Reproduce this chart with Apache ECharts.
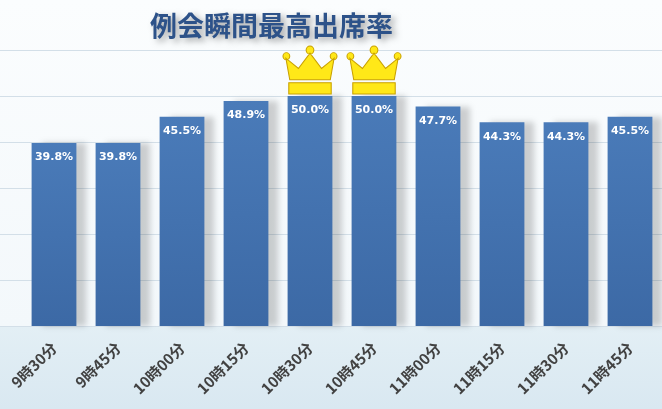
<!DOCTYPE html>
<html lang="ja">
<head>
	<meta charset="UTF-8">
	<title>例会瞬間最高出席率</title>
	<style>
		html,body{height: 100%;overflow: hidden;margin: 0;padding: 0;}
		body{background: linear-gradient(to bottom, #fbfdfe 0%, #f3f8fb 79.6%, #e3eff5 79.7%, #d9e8f1 100%);}
		#main{position: absolute;top: 0;left: 0;width: 662px;height: 409px;}
	</style>
</head>
<body>
	<div id="main"></div>
	<script src="https://cdn.jsdelivr.net/npm/echarts@6/dist/echarts.min.js"></script>
	<script>
		var categories = ['9時30分', '9時45分', '10時00分', '10時15分', '10時30分', '10時45分', '11時00分', '11時15分', '11時30分', '11時45分'];
		var rates = [39.8, 39.8, 45.5, 48.9, 50.0, 50.0, 47.7, 44.3, 44.3, 45.5];
		var yTicks = [0, 10, 20, 30, 40, 50, 60];

		// 王冠（最高値のバーに乗せる）
		var crown = 'path://M6,34 L2,13 L15,23 L27,8 L39,23 L52,13 L48,34 Z' +
			'M-1,11 a3.5,3.5 0 1,0 7,0 a3.5,3.5 0 1,0 -7,0 Z' +
			'M23,5 a4,4 0 1,0 8,0 a4,4 0 1,0 -8,0 Z' +
			'M48,11 a3.5,3.5 0 1,0 7,0 a3.5,3.5 0 1,0 -7,0 Z' +
			'M5,37 L49,37 L49,48 L5,48 Z';

		var maxRate = Math.max.apply(null, rates);
		var crownPoints = [];
		for (var i = 0; i < rates.length; i++) {
			if (rates[i] === maxRate) {
				crownPoints.push({coord: [categories[i], rates[i]]});
			}
		}

		var yAxisBase = {
			type: 'value',
			min: yTicks[0],
			max: yTicks[yTicks.length - 1],
			interval: yTicks[1] - yTicks[0],
			axisLabel: {show: false},
			axisLine: {show: false},
			axisTick: {show: false}
		};

		var chart = echarts.init(document.getElementById('main'));
		var option = {
			backgroundColor: 'transparent',
			title: {
				text: '例会瞬間最高出席率',
				left: 145,
				top: 7,
				textStyle: {
					fontFamily: 'Noto Sans CJK JP',
					fontSize: 27,
					fontWeight: 'bold',
					color: '#2d5289',
					textShadowColor: 'rgba(0,0,0,0.35)',
					textShadowBlur: 6,
					textShadowOffsetX: 4,
					textShadowOffsetY: 3
				}
			},
			grid: [
				{left: 22, right: 0, top: 50, bottom: 83},
				{left: 0, right: 0, top: 50, bottom: 83}
			],
			xAxis: [{
				type: 'category',
				gridIndex: 0,
				data: categories,
				axisLine: {show: false},
				axisTick: {show: false},
				axisLabel: {
					rotate: 45,
					margin: 19,
					fontFamily: 'Noto Sans CJK JP',
					fontSize: 15,
					fontWeight: 'bold',
					color: '#424242'
				}
			}, {
				type: 'value',
				gridIndex: 1,
				show: false
			}],
			yAxis: [
				Object.assign({gridIndex: 0, splitLine: {show: false}}, yAxisBase),
				Object.assign({gridIndex: 1, splitLine: {lineStyle: {color: '#d3dfe8', width: 1}}}, yAxisBase)
			],
			series: [{
				type: 'bar',
				xAxisIndex: 0,
				yAxisIndex: 0,
				data: rates,
				barCategoryGap: '30%',
				itemStyle: {
					color: new echarts.graphic.LinearGradient(0, 0, 0, 1, [
						{offset: 0, color: '#4a7bb9'},
						{offset: 1, color: '#3c69a5'}
					]),
					shadowColor: 'rgba(0,0,0,0.18)',
					shadowBlur: 6,
					shadowOffsetX: 10,
					shadowOffsetY: 0
				},
				label: {
					show: true,
					position: 'insideTop',
					distance: 9,
					color: '#ffffff',
					fontFamily: 'DejaVu Sans',
					fontSize: 11,
					fontWeight: 'bold',
					formatter: function (p) { return p.value.toFixed(1) + '%'; }
				},
				markPoint: {
					symbol: crown,
					symbolSize: [54, 48],
					symbolOffset: [0, -26],
					label: {show: false},
					itemStyle: {
						color: '#ffe818',
						borderColor: '#c9a100',
						borderWidth: 1
					},
					data: crownPoints
				}
			}]
		};
		chart.setOption(option);
	</script>
</body>
</html>
